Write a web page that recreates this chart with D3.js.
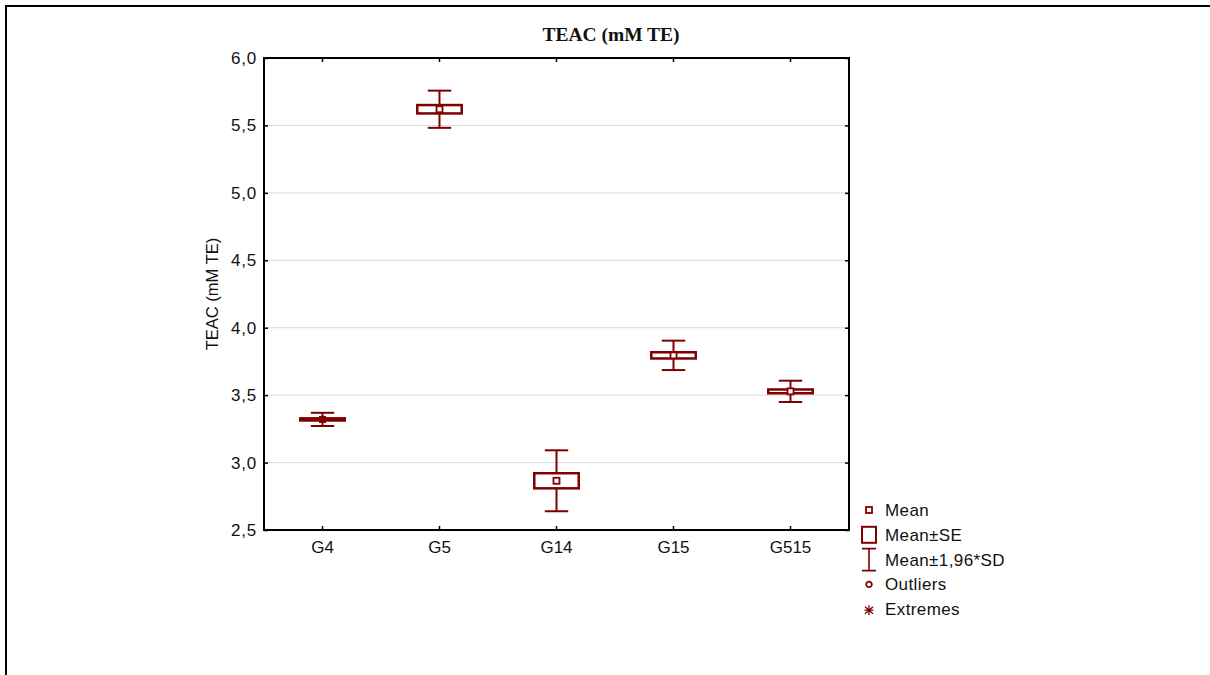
<!DOCTYPE html>
<html>
<head>
<meta charset="utf-8">
<script src="https://cdn.jsdelivr.net/npm/d3@7"></script>
<style>
  html, body { margin: 0; padding: 0; background: #fff; }
  svg { display: block; }
  text { font-family: "Liberation Sans", Arial, sans-serif; fill: #111; }
</style>
</head>
<body>
<svg id="chart" width="1210" height="675"></svg>
<script>
// Group labels and summary statistics for TEAC (mM TE)
const categories = ["G4", "G5", "G14", "G15", "G515"];
const means      = [3.32, 5.62, 2.865, 3.795, 3.528];
const stdErr     = [0.008, 0.031, 0.056, 0.023, 0.014];
const sd196      = [0.049, 0.138, 0.226, 0.109, 0.079];
const yTicks     = [2.5, 3.0, 3.5, 4.0, 4.5, 5.0, 5.5, 6.0];
const legendItems = ["Mean", "Mean±SE", "Mean±1,96*SD", "Outliers", "Extremes"];

const RED = "#800000";
const svg = d3.select("#chart");

// outer frame (only top and left edges are inside the page)
svg.append("path")
  .attr("d", "M6,680 L6,6 L1215,6")
  .attr("fill", "none").attr("stroke", "#000").attr("stroke-width", 2);

const plot = { left: 264, right: 849, top: 58, bottom: 530 };

const x = d3.scaleBand().domain(categories).range([plot.left, plot.right]);
const y = d3.scaleLinear().domain([2.5, 6.0]).range([plot.bottom, plot.top]);
const fmt = v => d3.format(".1f")(v).replace(".", ",");

// horizontal grid
svg.append("g").selectAll("line")
  .data(yTicks.filter(t => t > 2.5 && t < 6.0))
  .join("line")
  .attr("x1", plot.left).attr("x2", plot.right)
  .attr("y1", d => y(d)).attr("y2", d => y(d))
  .attr("stroke", "#dcdcdc").attr("stroke-width", 1);

// axes with inward ticks on all four sides
const axisStyle = (spacing) => g => {
  g.select(".domain").remove();
  g.selectAll(".tick line").attr("stroke", "#000").attr("stroke-width", 1.5);
  g.selectAll(".tick text").attr("fill", "#111")
    .style("font-family", "'Liberation Sans', Arial, sans-serif")
    .style("font-size", "17px")
    .style("letter-spacing", spacing + "px");
};

svg.append("g").attr("transform", `translate(${plot.left},0)`)
  .call(d3.axisLeft(y).tickValues(yTicks).tickFormat(fmt).tickSizeInner(-4).tickPadding(7))
  .call(axisStyle(0.8));
svg.append("g").attr("transform", `translate(${plot.right},0)`)
  .call(d3.axisRight(y).tickValues(yTicks).tickFormat("").tickSizeInner(-4))
  .call(axisStyle(0));
svg.append("g").attr("transform", `translate(0,${plot.bottom})`)
  .call(d3.axisBottom(x).tickSizeInner(-4).tickPadding(11))
  .call(axisStyle(0));
svg.append("g").attr("transform", `translate(0,${plot.top})`)
  .call(d3.axisTop(x).tickSizeInner(-4).tickFormat(""))
  .call(axisStyle(0));

// plot frame
svg.append("rect")
  .attr("x", plot.left).attr("y", plot.top)
  .attr("width", plot.right - plot.left).attr("height", plot.bottom - plot.top)
  .attr("fill", "none").attr("stroke", "#000").attr("stroke-width", 2);

// title and axis label
svg.append("text")
  .attr("x", 611).attr("y", 41).attr("text-anchor", "middle")
  .style("font-family", "'Liberation Serif', 'Times New Roman', serif")
  .style("font-weight", "bold").style("font-size", "19.5px")
  .text("TEAC (mM TE)");

svg.append("text")
  .attr("transform", `translate(218,${(plot.top + plot.bottom) / 2}) rotate(-90)`)
  .attr("text-anchor", "middle")
  .style("font-size", "16.5px")
  .text("TEAC (mM TE)");

// box plots: mean marker, ±SE box, ±1.96*SD whiskers
const data = categories.map((c, i) => ({ c, m: means[i], se: stdErr[i], sd: sd196[i] }));
const bw = x.bandwidth();
const boxW = bw * 0.38, capW = bw * 0.2;

const g = svg.append("g").selectAll("g").data(data).join("g")
  .attr("transform", d => `translate(${x(d.c) + bw / 2},0)`);

g.append("line")
  .attr("x1", 0).attr("x2", 0)
  .attr("y1", d => y(d.m + d.sd)).attr("y2", d => y(d.m - d.sd))
  .attr("stroke", RED).attr("stroke-width", 2);
g.append("line")
  .attr("x1", -capW / 2).attr("x2", capW / 2)
  .attr("y1", d => y(d.m + d.sd)).attr("y2", d => y(d.m + d.sd))
  .attr("stroke", RED).attr("stroke-width", 2);
g.append("line")
  .attr("x1", -capW / 2).attr("x2", capW / 2)
  .attr("y1", d => y(d.m - d.sd)).attr("y2", d => y(d.m - d.sd))
  .attr("stroke", RED).attr("stroke-width", 2);
g.append("rect")
  .attr("x", -boxW / 2).attr("width", boxW)
  .attr("y", d => y(d.m + d.se))
  .attr("height", d => y(d.m - d.se) - y(d.m + d.se))
  .attr("fill", "#fff").attr("stroke", RED).attr("stroke-width", 2.5);
// mean marker (solid when the box is too narrow to show it hollow)
const boxH = d => y(d.m - d.se) - y(d.m + d.se);
g.filter(d => boxH(d) > 3)
  .append("rect")
  .attr("x", -3).attr("width", 6)
  .attr("y", d => y(d.m) - 3).attr("height", 6)
  .attr("fill", "#fff").attr("stroke", RED).attr("stroke-width", 1.8);
g.filter(d => boxH(d) <= 3)
  .append("rect")
  .attr("x", -3.5).attr("width", 7)
  .attr("y", d => y(d.m) - 3.5).attr("height", 7)
  .attr("fill", RED);

// legend
const lg = svg.append("g").attr("transform", "translate(869,510)");
const rowH = 24.8;
const rows = lg.selectAll("g").data(legendItems).join("g")
  .attr("transform", (d, i) => `translate(0,${i * rowH})`);
rows.append("text")
  .attr("x", 16).attr("y", 6)
  .style("font-size", "17px")
  .style("letter-spacing", "0.4px")
  .text(d => d);

rows.each(function (d, i) {
  const r = d3.select(this);
  if (i === 0) {
    r.append("rect").attr("x", -3).attr("y", -3).attr("width", 6).attr("height", 6)
      .attr("fill", "#fff").attr("stroke", RED).attr("stroke-width", 1.8);
  } else if (i === 1) {
    r.append("rect").attr("x", -7).attr("y", -8).attr("width", 14).attr("height", 16)
      .attr("fill", "#fff").attr("stroke", RED).attr("stroke-width", 2);
  } else if (i === 2) {
    r.append("path").attr("d", "M-7,-11 H7 M0,-11 V11 M-7,11 H7")
      .attr("fill", "none").attr("stroke", RED).attr("stroke-width", 1.6);
  } else if (i === 3) {
    r.append("circle").attr("r", 2.8).attr("fill", "#fff")
      .attr("stroke", RED).attr("stroke-width", 1.8);
  } else {
    r.append("path").attr("d", "M-4.5,0 H4.5 M0,-5 V5 M-4,-3.5 L4,3.5 M-4,3.5 L4,-3.5")
      .attr("transform", "translate(0,1)")
      .attr("fill", "none").attr("stroke", RED).attr("stroke-width", 1.3);
  }
});
</script>
</body>
</html>
